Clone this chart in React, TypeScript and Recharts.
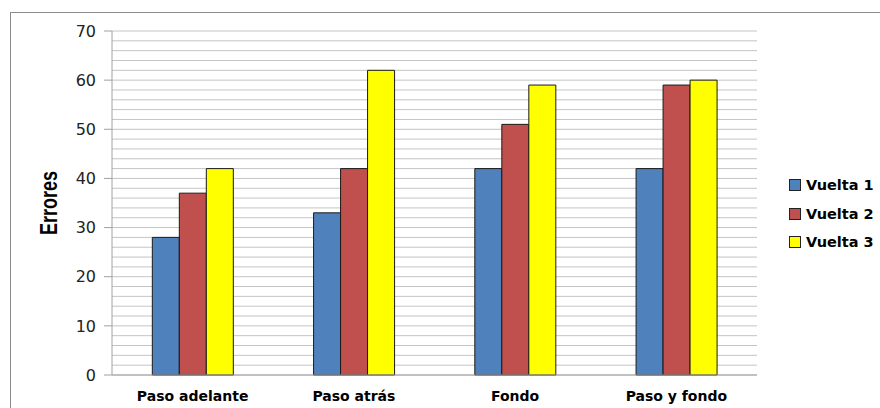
import React from "react";
import {
  BarChart,
  Bar,
  XAxis,
  YAxis,
  CartesianGrid,
  Label,
} from "recharts";

const categories = ["Paso adelante", "Paso atrás", "Fondo", "Paso y fondo"];
const vuelta1 = [28, 33, 42, 42];
const vuelta2 = [37, 42, 51, 59];
const vuelta3 = [42, 62, 59, 60];
const yTicks = [0, 10, 20, 30, 40, 50, 60, 70];
const gridTicks = [0, 2, 4, 6, 8, 10, 12, 14, 16, 18, 20, 22, 24, 26, 28, 30, 32, 34, 36, 38, 40, 42, 44, 46, 48, 50, 52, 54, 56, 58, 60, 62, 64, 66, 68, 70];

const series = [
  { key: "v1", name: "Vuelta 1", color: "#4F81BD" },
  { key: "v2", name: "Vuelta 2", color: "#C0504D" },
  { key: "v3", name: "Vuelta 3", color: "#FFFF00" },
];

const data = categories.map((name, i) => ({
  name,
  v1: vuelta1[i],
  v2: vuelta2[i],
  v3: vuelta3[i],
}));

const font = "'DejaVu Sans', Verdana, sans-serif";

export default function App() {
  return (
    <div
      style={{
        position: "absolute",
        left: 0,
        top: 0,
        width: 880,
        height: 408,
        overflow: "hidden",
        background: "#fff",
      }}
    >
      <div
        style={{
          position: "absolute",
          left: 10,
          top: 12,
          width: 900,
          height: 420,
          border: "1.5px solid #8c8c8c",
        }}
      />
      <div style={{ position: "absolute", left: 0, top: 0 }}>
        <BarChart
          width={880}
          height={408}
          data={data}
          margin={{ top: 31, right: 123, bottom: 0, left: 30 }}
          barGap={0}
          barCategoryGap="25%"
        >
          <CartesianGrid
            vertical={false}
            stroke="#c4c4c4"
            strokeWidth={1}
            horizontalValues={gridTicks}
          />
          <YAxis
            domain={[0, 70]}
            ticks={yTicks}
            interval={0}
            width={82}
            axisLine={{ stroke: "#a0a0a0" }}
            tickLine={{ stroke: "#a0a0a0" }}
            tickSize={8}
            tickMargin={8}
            tick={{ fontSize: 16, fill: "#222", fontFamily: font }}
          >
            <Label
              content={() => (
                <text
                  x={57}
                  y={203}
                  transform="rotate(-90 57 203)"
                  textAnchor="middle"
                  textLength={64}
                  lengthAdjust="spacingAndGlyphs"
                  fontFamily="'Liberation Sans', Arial, sans-serif"
                  fontWeight="bold"
                  fontSize={23}
                  fill="#000"
                >
                  Errores
                </text>
              )}
            />
          </YAxis>
          <XAxis
            dataKey="name"
            height={33}
            axisLine={{ stroke: "#a0a0a0" }}
            tickLine={false}
            tickMargin={10}
            tick={{ fontSize: 14, fill: "#000", fontWeight: "bold", fontFamily: font }}
          />
          {series.map((s) => (
            <Bar
              key={s.key}
              dataKey={s.key}
              name={s.name}
              fill={s.color}
              stroke="#1a1a1a"
              strokeWidth={1}
              isAnimationActive={false}
            />
          ))}
        </BarChart>
      </div>
      <div style={{ position: "absolute", left: 789, top: 171 }}>
        {series.map((s) => (
          <div
            key={s.key}
            style={{
              display: "flex",
              alignItems: "center",
              height: 28.5,
              fontFamily: font,
              fontWeight: "bold",
              fontSize: 14.5,
              color: "#000",
            }}
          >
            <span
              style={{
                display: "inline-block",
                width: 10,
                height: 10,
                background: s.color,
                border: "1px solid #222",
                marginRight: 5,
              }}
            />
            {s.name}
          </div>
        ))}
      </div>
    </div>
  );
}
